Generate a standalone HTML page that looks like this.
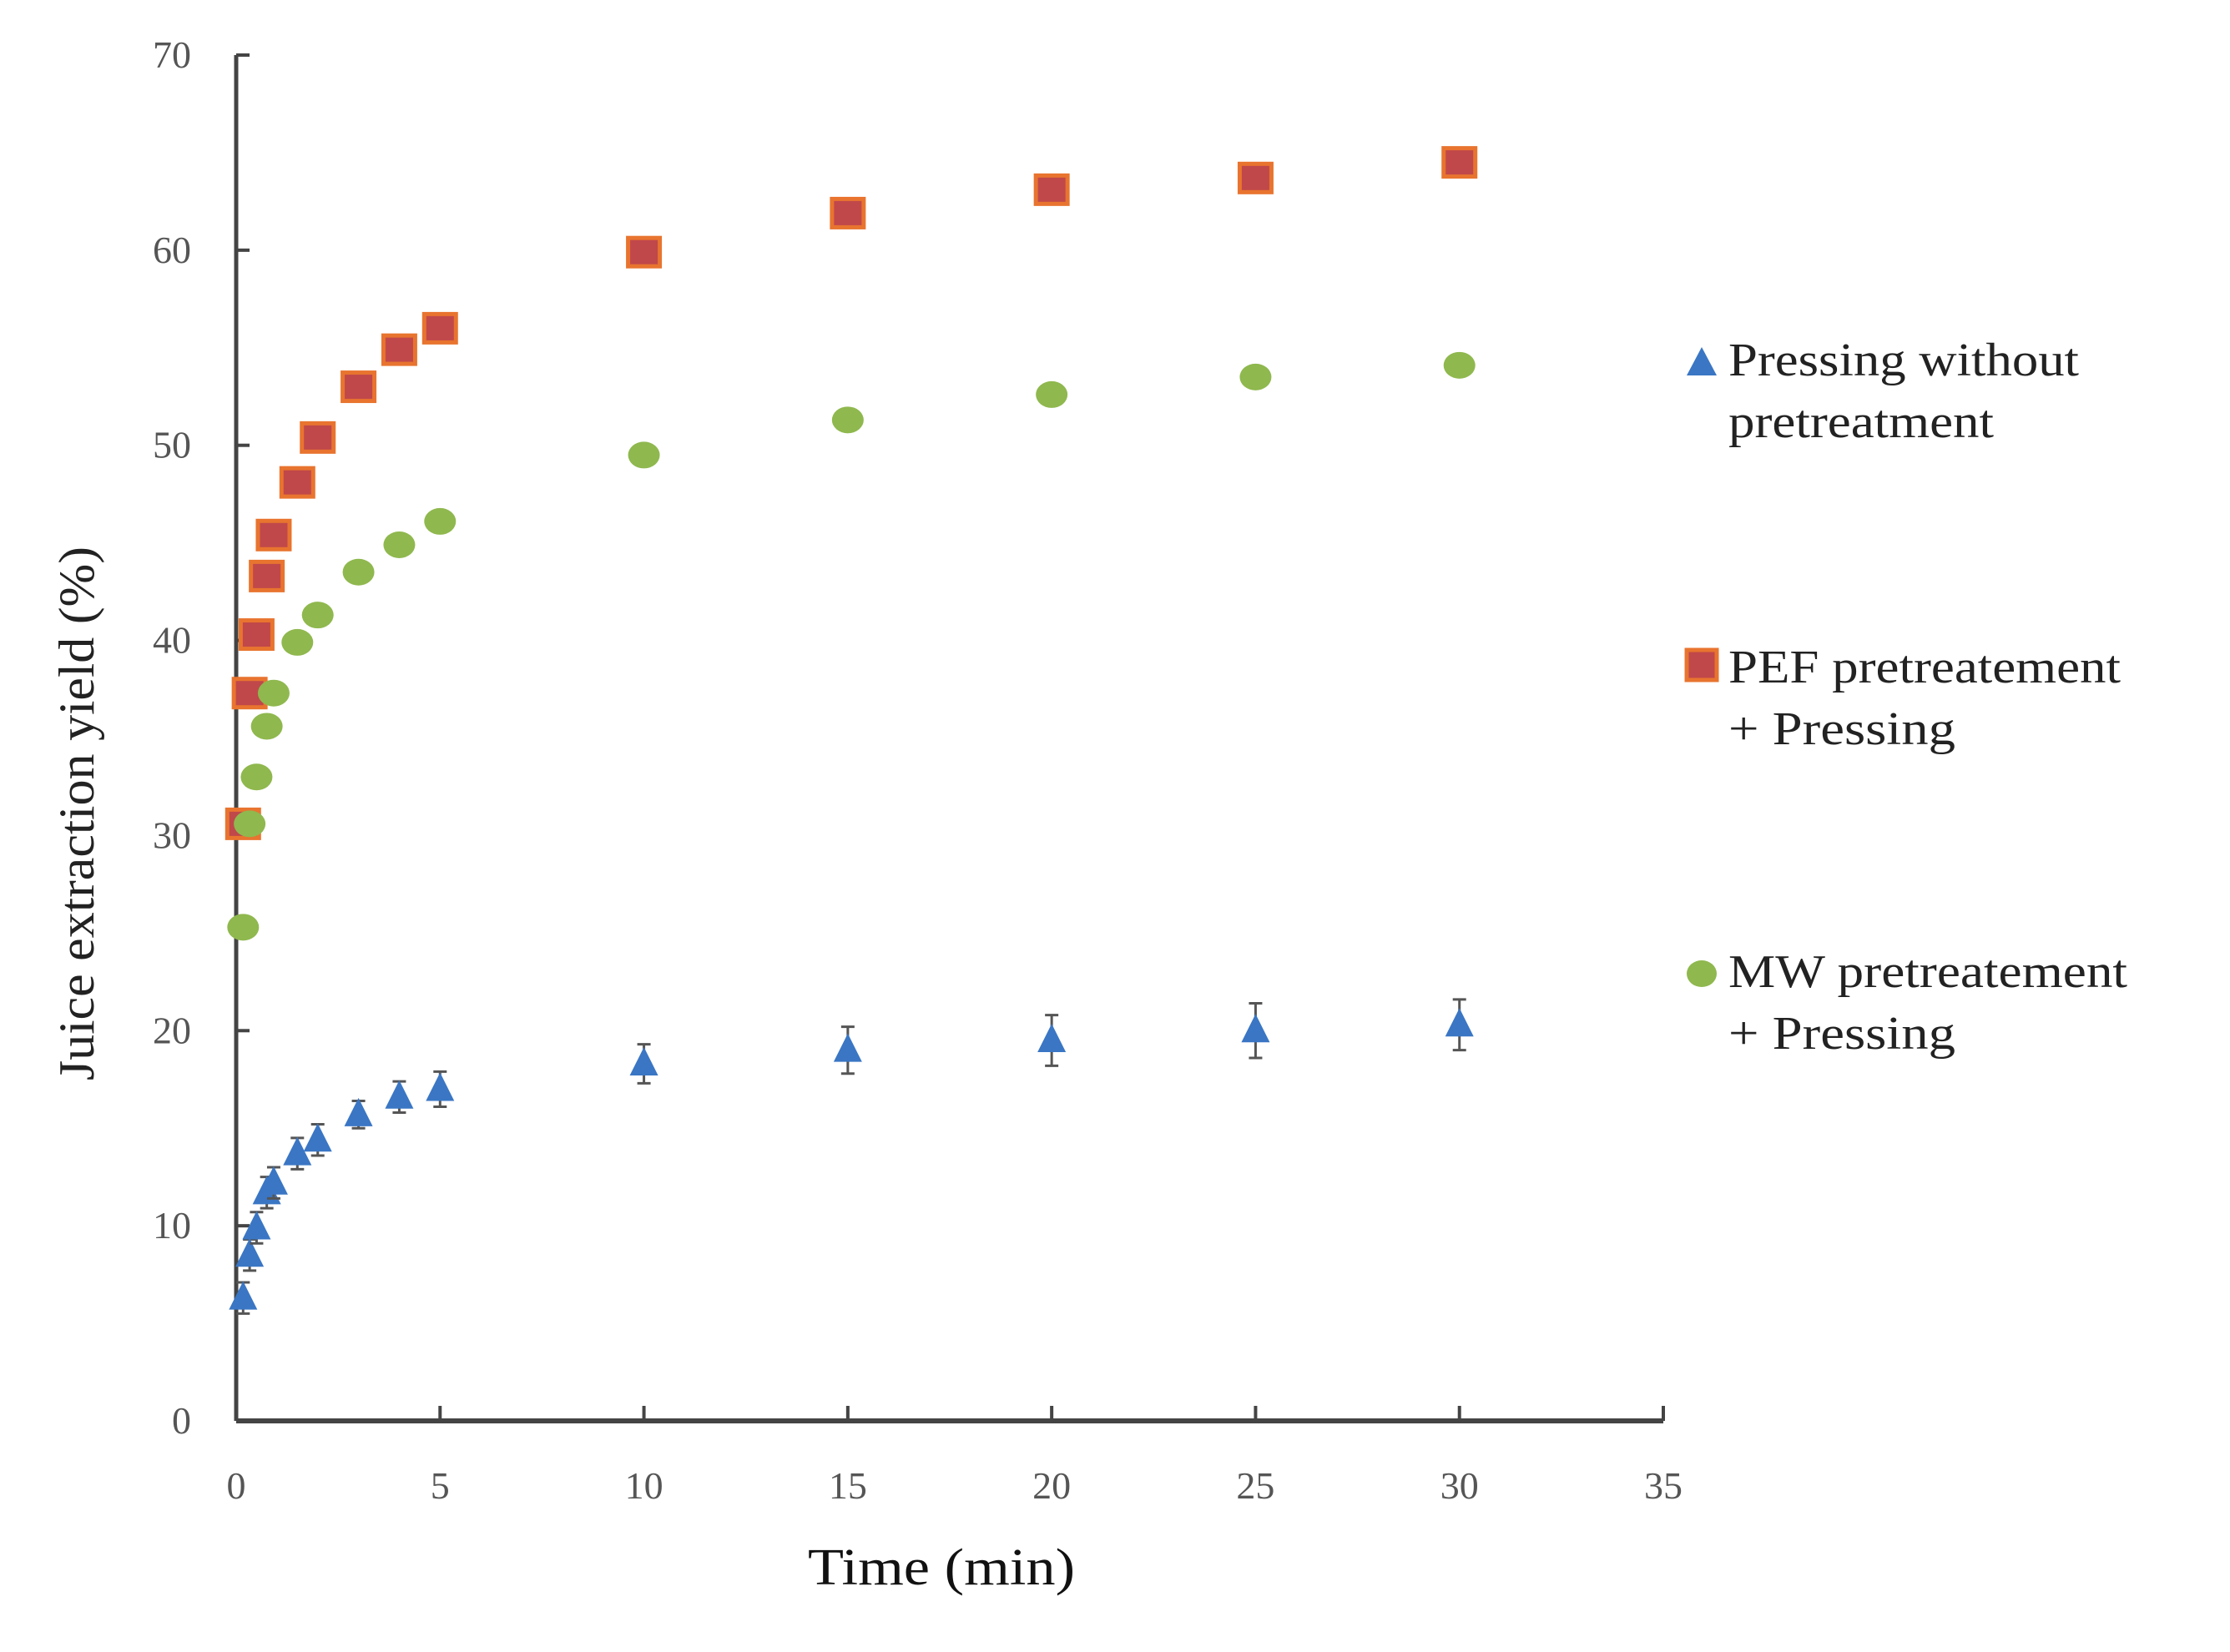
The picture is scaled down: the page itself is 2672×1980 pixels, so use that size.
<!DOCTYPE html>
<html><head><meta charset="utf-8"><style>
html,body{margin:0;padding:0;background:#fff;}
svg{display:block;font-family:"Liberation Serif",serif;}
</style></head><body>
<svg id="chart" width="2672" height="1980" viewBox="0 0 2672 1980" xmlns="http://www.w3.org/2000/svg">
<g id="axes"></g>
<g id="marks"></g>
<text x="1128" y="1899" font-size="62" text-anchor="middle" fill="#111" textLength="320" lengthAdjust="spacingAndGlyphs">Time  (min)</text>
<text transform="translate(112,975) rotate(-90)" font-size="60" text-anchor="middle" fill="#222" textLength="640" lengthAdjust="spacingAndGlyphs">Juice  extraction  yield  (%)</text>
<g font-size="56" fill="#222">
<g>
<polygon points="2039,416 2057,450 2021,450" fill="#3a76c4"/>
<text x="2071" y="450" textLength="420" lengthAdjust="spacingAndGlyphs">Pressing without</text>
<text x="2071" y="524" textLength="318" lengthAdjust="spacingAndGlyphs">pretreatment</text></g>
<g>
<rect x="2021" y="779" width="36" height="36" fill="#c0484a" stroke="#e8742f" stroke-width="5"/>
<text x="2071" y="818" textLength="470" lengthAdjust="spacingAndGlyphs">PEF  pretreatement</text>
<text x="2071" y="892" textLength="272" lengthAdjust="spacingAndGlyphs">+ Pressing</text></g>
<g>
<ellipse cx="2039" cy="1167" rx="18" ry="16" fill="#8fb84e"/>
<text x="2071" y="1183" textLength="478" lengthAdjust="spacingAndGlyphs">MW pretreatement</text>
<text x="2071" y="1257" textLength="272" lengthAdjust="spacingAndGlyphs">+ Pressing</text></g>
</g>
</svg>
<script>
const times = [0.17,0.33,0.5,0.75,0.92,1.5,2,3,4,5,10,15,20,25,30];
const pressingYield = [6.3,8.5,9.9,11.7,12.2,13.7,14.4,15.7,16.6,17.0,18.3,19.0,19.5,20.0,20.3];
const pressingErr = [0.8,0.8,0.8,0.8,0.8,0.8,0.8,0.7,0.8,0.9,1.0,1.2,1.3,1.4,1.3];
const pefYield = [30.6,37.3,40.3,43.3,45.4,48.1,50.4,53.0,54.9,56.0,59.9,61.9,63.1,63.7,64.5];
const mwYield = [25.3,30.6,33.0,35.6,37.3,39.9,41.3,43.5,44.9,46.1,49.5,51.3,52.6,53.5,54.1];
const xTicks = [0,5,10,15,20,25,30,35];
const yTicks = [0,10,20,30,40,50,60,70];

const X0=283, X1=1993, Y0=1703, Y1=66;
const sx = v => X0 + (X1-X0)*v/35;
const sy = v => Y0 - (Y0-Y1)*v/70;
const NS="http://www.w3.org/2000/svg";
function mk(tag, attrs, parent){const e=document.createElementNS(NS,tag);for(const k in attrs)e.setAttribute(k,attrs[k]);parent.appendChild(e);return e;}
const axes=document.getElementById('axes'), marks=document.getElementById('marks');

let yl=mk('line',{x1:X0,y1:Y1,x2:X0,y2:Y0,stroke:'#444','stroke-width':5},axes);


let xl=mk('line',{x1:X0,y1:Y0,x2:X1,y2:Y0,stroke:'#444','stroke-width':6},axes);



yTicks.forEach(v=>{
  const t=mk('line',{x1:X0,y1:sy(v),x2:X0+16,y2:sy(v),stroke:'#444','stroke-width':4},axes);
  
  
  const l=mk('text',{x:X0-54,y:sy(v)+15,'font-size':46,'text-anchor':'end',fill:'#555'},axes);
  l.textContent=v;
  
  
});
xTicks.forEach(v=>{
  const t=mk('line',{x1:sx(v),y1:Y0,x2:sx(v),y2:Y0-18,stroke:'#444','stroke-width':4},axes);
  
  
  const l=mk('text',{x:sx(v),y:1796,'font-size':46,'text-anchor':'middle',fill:'#555'},axes);
  l.textContent=v;
  
  
});

times.forEach((t,i)=>{
  const cx=sx(t), cy=sy(pefYield[i]);
  const r=mk('rect',{x:cx-19,y:cy-17,width:38,height:34,fill:'#c0484a',stroke:'#e8742f','stroke-width':5},marks);
  
  
});
times.forEach((t,i)=>{
  const cx=sx(t), cy=sy(mwYield[i]);
  const c=mk('ellipse',{cx:cx,cy:cy,rx:19,ry:16,fill:'#8fb84e'},marks);
  
  
});
times.forEach((t,i)=>{
  const cx=sx(t), cy=sy(pressingYield[i]);
  const e=mk('path',{d:`M${cx} ${sy(pressingYield[i]+pressingErr[i])}V${sy(pressingYield[i]-pressingErr[i])}M${cx-8} ${sy(pressingYield[i]+pressingErr[i])}h16M${cx-8} ${sy(pressingYield[i]-pressingErr[i])}h16`,stroke:'#555','stroke-width':3,fill:'none'},marks);
  
  
  const p=mk('polygon',{points:`${cx},${cy-20} ${cx+17},${cy+14} ${cx-17},${cy+14}`,fill:'#3a76c4'},marks);
  
  
});
</script>
</body></html>
